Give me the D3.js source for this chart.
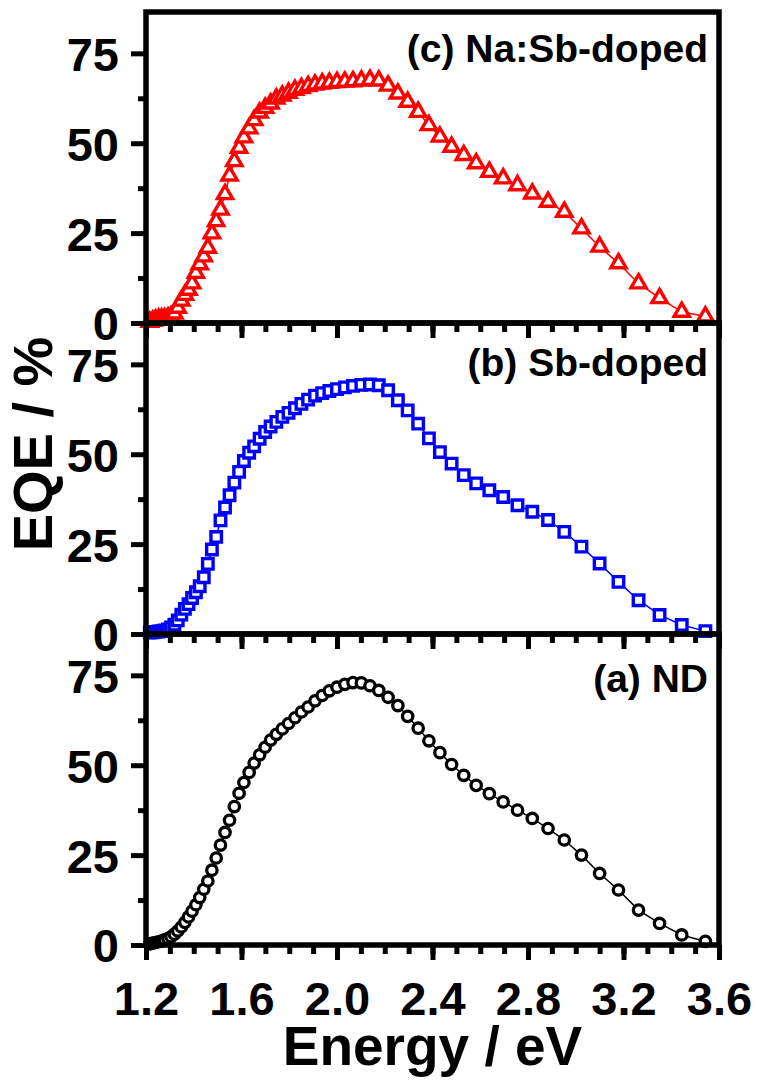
<!DOCTYPE html>
<html>
<head>
<meta charset="utf-8">
<script src="https://cdn.jsdelivr.net/npm/d3@7"></script>
<style>
  body { margin: 0; background: #fff; }
  svg text { font-family: "Liberation Sans", Arial, sans-serif; font-weight: bold; }
</style>
</head>
<body>
<script>
// photon energy of each measured point (eV), shared by the three samples
var energy = [3.543, 3.444, 3.351, 3.263, 3.179, 3.100, 3.024, 2.952, 2.884, 2.818,
  2.756, 2.696, 2.638, 2.583, 2.531, 2.480, 2.431, 2.385, 2.340, 2.296,
  2.255, 2.214, 2.175, 2.138, 2.102, 2.067, 2.033, 2.000, 1.968, 1.938,
  1.908, 1.879, 1.851, 1.824, 1.797, 1.771, 1.746, 1.722, 1.699, 1.676,
  1.653, 1.632, 1.610, 1.590, 1.570, 1.550, 1.531, 1.512, 1.494, 1.476,
  1.459, 1.442, 1.425, 1.409, 1.393, 1.378, 1.363, 1.348, 1.333, 1.319,
  1.305, 1.292, 1.278, 1.265, 1.253, 1.240, 1.228, 1.216];

// EQE in %
var eqeNaSb = [1.8, 3.1, 6.9, 11.0, 16.6, 21.2, 26.3, 30.9, 33.7, 36.0,
  38.3, 40.2, 42.0, 44.4, 46.7, 49.0, 51.8, 55.0, 58.7, 61.5,
  63.8, 66.0, 67.4, 67.6, 67.4, 67.2, 67.1, 67.0, 66.8, 66.6,
  66.3, 65.9, 65.3, 64.8, 64.0, 63.2, 62.4, 61.0, 59.8, 58.5,
  56.4, 54.1, 51.6, 48.7, 45.0, 41.0, 35.8, 31.5, 28.3, 24.9,
  20.9, 18.5, 16.3, 13.9, 11.0, 9.2, 7.8, 6.2, 4.2, 2.6,
  1.8, 1.5, 1.3, 1.2, 1.1, 0.9, 0.6, 0.3];

var eqeSb = [0.8, 2.5, 5.3, 9.4, 14.5, 19.6, 24.3, 28.4, 31.7, 34.0,
  35.8, 38.1, 40.0, 41.9, 44.2, 47.4, 50.6, 54.4, 58.5, 62.2,
  65.0, 67.8, 69.2, 69.4, 69.3, 69.0, 68.6, 68.1, 67.6, 67.0,
  66.3, 65.2, 64.0, 62.8, 61.5, 60.4, 59.0, 57.7, 56.2, 54.3,
  52.2, 50.4, 48.1, 45.1, 42.1, 38.6, 35.2, 31.6, 27.0, 23.5,
  19.5, 15.8, 13.3, 11.6, 10.0, 8.3, 7.0, 5.4, 3.8, 2.6,
  1.8, 1.3, 1.0, 0.8, 0.7, 0.6, 0.5, 0.4];

var eqeND = [1.0, 2.8, 6.0, 9.7, 15.3, 19.9, 25.0, 29.2, 32.4, 35.2,
  37.5, 39.8, 42.1, 44.4, 47.2, 50.2, 53.5, 56.8, 60.3, 63.6,
  66.6, 68.9, 70.8, 72.1, 72.9, 73.0, 72.5, 71.7, 70.7, 69.4,
  67.9, 66.2, 64.8, 63.2, 61.6, 60.1, 58.6, 57.0, 55.0, 52.9,
  50.6, 48.0, 45.2, 42.2, 38.5, 34.7, 31.3, 27.8, 24.2, 20.8,
  17.8, 15.5, 13.2, 11.2, 9.4, 7.8, 6.3, 5.0, 3.9, 3.0,
  2.3, 1.8, 1.4, 1.1, 0.9, 0.7, 0.5, 0.3];

var xTicks = [1.2, 1.6, 2.0, 2.4, 2.8, 3.2, 3.6];
var yTicks = [0, 25, 50, 75];

// top to bottom
var panels = [
  {label: "(c) Na:Sb-doped", values: eqeNaSb, color: "#ff0000", marker: "triangle"},
  {label: "(b) Sb-doped", values: eqeSb, color: "#0000ff", marker: "square"},
  {label: "(a) ND", values: eqeND, color: "#000000", marker: "circle"}
];
var labelDrop = [50, 53, 58];   // baseline of each panel label below panel top

var width = 759, height = 1080;
var plotLeft = 146, plotRight = 719, plotTop = 12, panelH = 311;

var svg = d3.select("body").append("svg")
  .attr("width", width)
  .attr("height", height);

var x = d3.scaleLinear().domain([1.2, 3.6]).range([plotLeft, plotRight]);
var xMinor = d3.range(12, 37).map(d => d / 10);
var yMinor = [12.5, 37.5, 62.5];

panels.forEach((p, i) => {
  let y0 = plotTop + i * panelH;
  let y = d3.scaleLinear().domain([0, 86.5]).range([y0 + panelH, y0]);
  let g = svg.append("g");
  let pts = energy.map((e, k) => [e, p.values[k]]);

  // thin connecting line
  g.append("path")
    .datum(pts)
    .attr("fill", "none")
    .attr("stroke", p.color)
    .attr("stroke-width", 1.5)
    .attr("d", d3.line().x(d => x(d[0])).y(d => y(d[1])));

  // markers, drawn from low energy to high
  let sym = p.marker == "triangle" ? d3.symbol(d3.symbolTriangle, 100)
          : d3.symbol(d3.symbolSquare, 110);
  let marks = g.selectAll(".pt").data(pts.slice().reverse()).enter();
  if (p.marker == "circle") {
    marks.append("circle")
      .attr("cx", d => x(d[0]))
      .attr("cy", d => y(d[1]))
      .attr("r", 5.2)
      .attr("fill", "white")
      .attr("stroke", p.color)
      .attr("stroke-width", 3.3);
  } else {
    marks.append("path")
      .attr("d", sym)
      .attr("transform", d => "translate(" + x(d[0]) + "," + y(d[1]) + ")")
      .attr("fill", "white")
      .attr("stroke", p.color)
      .attr("stroke-width", 3.4);
  }

  // y axis
  let ya = svg.append("g").attr("transform", "translate(" + plotLeft + ",0)");
  ya.call(d3.axisLeft(y).tickValues(yMinor).tickSize(8).tickFormat(""));
  ya.append("g").call(d3.axisLeft(y).tickValues(yTicks).tickSize(15).tickPadding(12));
  ya.selectAll(".domain").remove();
  ya.selectAll("line").attr("stroke", "black").attr("stroke-width", 5);
  ya.selectAll("text").attr("fill", "black").style("font-size", "47px").attr("dy", "0.36em");

  // x axis (bottom of each panel)
  let xa = svg.append("g").attr("transform", "translate(0," + (y0 + panelH) + ")");
  xa.call(d3.axisBottom(x).tickValues(xMinor).tickSize(9).tickFormat(""));
  let xm = xa.append("g").call(d3.axisBottom(x).tickValues(xTicks).tickSize(15)
      .tickFormat(d3.format(".1f")).tickPadding(22));
  xa.selectAll(".domain").remove();
  xa.selectAll("line").attr("stroke", "black").attr("stroke-width", 5);
  xm.selectAll("text").attr("fill", "black").style("font-size", "47px");
  if (i < panels.length - 1) xm.selectAll("text").remove();

  // panel frame
  svg.append("rect")
    .attr("x", plotLeft).attr("y", y0)
    .attr("width", plotRight - plotLeft).attr("height", panelH)
    .attr("fill", "none")
    .attr("stroke", "black")
    .attr("stroke-width", 5.5);

  svg.append("text")
    .attr("x", 708)
    .attr("y", y0 + labelDrop[i])
    .attr("text-anchor", "end")
    .style("font-size", "39px")
    .text(p.label);
});

svg.append("text")
  .attr("transform", "translate(52,444) rotate(-90)")
  .attr("text-anchor", "middle")
  .style("font-size", "56px")
  .text("EQE / %");

svg.append("text")
  .attr("x", (plotLeft + plotRight) / 2)
  .attr("y", 1065)
  .attr("text-anchor", "middle")
  .style("font-size", "55px")
  .text("Energy / eV");
</script>
</body>
</html>
